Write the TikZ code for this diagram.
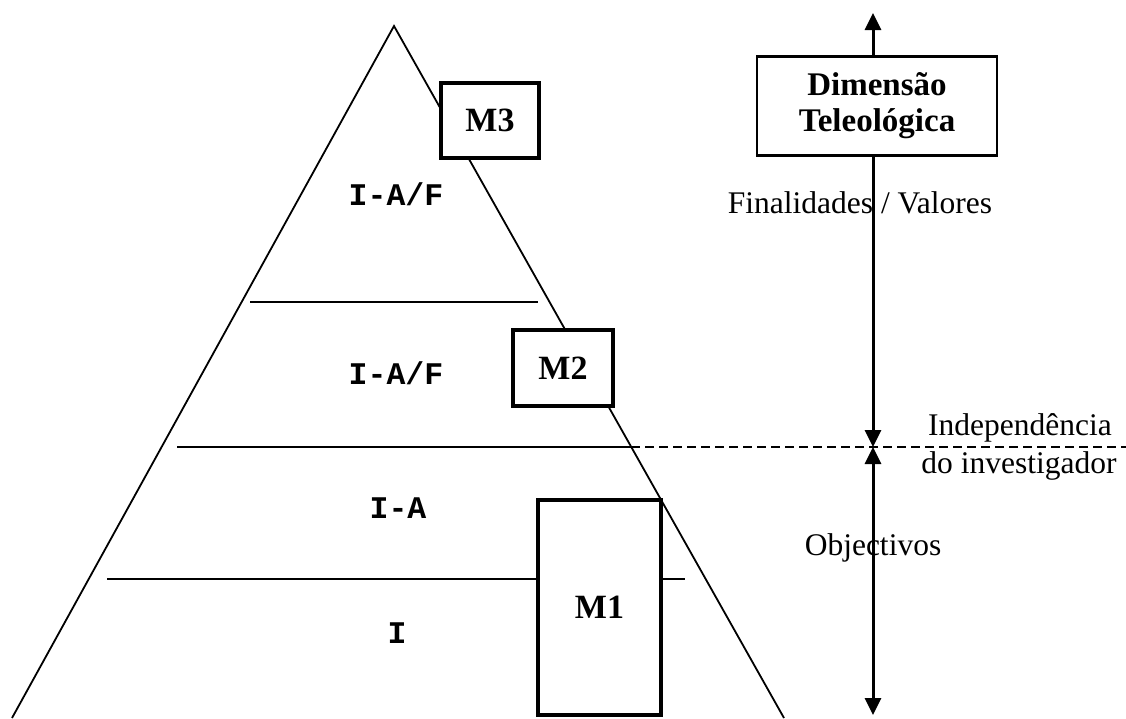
\documentclass[tikz,border=0pt]{standalone}
\usepackage{fontspec}
\setmainfont{Liberation Serif}
\setmonofont{Liberation Mono}
\usetikzlibrary{arrows.meta}
\begin{document}
\begin{tikzpicture}[x=1pt,y=-1pt,
  thinline/.style={line width=1.8pt},
  mbox/.style={draw, line width=3.6pt, fill=white, inner sep=0pt,
    font=\fontsize{34}{38}\selectfont\bfseries},
  level/.style={font=\fontsize{31.5}{36}\selectfont\ttfamily\bfseries,
    anchor=base, inner sep=0pt},
  note/.style={font=\fontsize{31.5}{36}\selectfont, anchor=base, inner sep=0pt},
  axis/.style={line width=3pt},
  tip/.style={-{Triangle[width=16pt,length=17pt]}},
  tips/.style={{Triangle[width=16pt,length=17pt]}-{Triangle[width=16pt,length=17pt]}},
]
\useasboundingbox (0,0) rectangle (1126,718);

% pyramid outline and the level separators
\coordinate (apex) at (394,26);
\coordinate (lfoot) at (12,718);
\coordinate (rfoot) at (784,718);
\coordinate (cut) at (631,447);
\draw[thinline, line join=miter] (lfoot) -- (apex) -- (rfoot);
\draw[thinline] (250,302) -- (538,302);
\draw[thinline] (177,447) -- (cut);
\draw[thinline, dash pattern=on 9pt off 5pt] (cut) -- (1126,447);
\draw[thinline] (107,579) -- (685,579);

% level labels
\node[level] (l4) at (396,205) {I-A/F};
\node[level] (l3) at (396,384) {I-A/F};
\node[level] (l2) at (398,518) {I-A};
\node[level] (l1) at (397,643) {I};

% model boxes
\node[mbox, minimum width=98pt, minimum height=75pt] (m3) at (490,120.5) {M3};
\node[mbox, minimum width=100pt, minimum height=76pt] (m2) at (563,368) {M2};
\node[mbox, minimum width=123pt, minimum height=215pt] (m1) at (599.5,607.5) {M1};

% teleological axis
\coordinate (top) at (873,13);
\coordinate (mid) at (873,447);
\coordinate (bot) at (873,715);
\node[draw, line width=2.8pt, fill=white, minimum width=240pt, minimum height=99pt,
  inner sep=0pt, align=center, font=\fontsize{33}{36}\selectfont\bfseries]
  (dim) at (877,106) {Dimensão\\Teleológica};
\draw[axis, tip] (dim.north -| top) -- (top);
\draw[axis, tip] (dim.south -| top) -- (mid);
\draw[axis, tips] (mid) -- (bot);

\node[note] (fin) at (860,213) {Finalidades / Valores};
\node[note] (ind1) at (1020,435) {Independência};
\node[note] (ind2) at (1019,473) {do investigador};
\node[note] (obj) at (873,555) {Objectivos};
\end{tikzpicture}
\end{document}
